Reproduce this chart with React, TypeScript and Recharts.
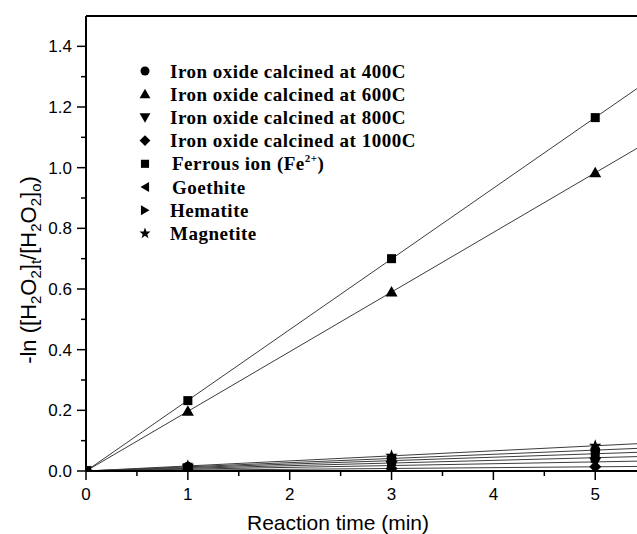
import React from "react";
import {
  ComposedChart,
  Line,
  Scatter,
  XAxis,
  YAxis,
  ReferenceLine,
} from "recharts";

// reaction times (min)
const times = [0, 1, 3, 5];

// -ln([H2O2]t/[H2O2]o) for each catalyst
const oxide400 = [0, 0.014, 0.041, 0.069];
const oxide600 = [0, 0.197, 0.59, 0.983];
const oxide800 = [0, 0.006, 0.018, 0.03];
const oxide1000 = [0, 0.003, 0.008, 0.014];
const ferrous = [0, 0.232, 0.7, 1.165];
const goethite = [0, 0.011, 0.034, 0.057];
const hematite = [0, 0.009, 0.026, 0.044];
const magnetite = [0, 0.017, 0.05, 0.083];

const xTicks = [0, 0.5, 1, 1.5, 2, 2.5, 3, 3.5, 4, 4.5, 5];
const xMajor = [0, 1, 2, 3, 4, 5];
const yTicks = [0, 0.1, 0.2, 0.3, 0.4, 0.5, 0.6, 0.7, 0.8, 0.9, 1.0, 1.1, 1.2, 1.3, 1.4];
const yMajor = [0, 0.2, 0.4, 0.6, 0.8, 1.0, 1.2, 1.4];

const X_MAX = 5.41;
const Y_MAX = 1.5;

type Kind = "circle" | "up" | "down" | "diamond" | "square" | "left" | "right" | "star";

const series: { name: string; values: number[]; kind: Kind }[] = [
  { name: "Iron oxide calcined at 400C", values: oxide400, kind: "circle" },
  { name: "Iron oxide calcined at 600C", values: oxide600, kind: "up" },
  { name: "Iron oxide calcined at 800C", values: oxide800, kind: "down" },
  { name: "Iron oxide calcined at 1000C", values: oxide1000, kind: "diamond" },
  { name: "Ferrous ion", values: ferrous, kind: "square" },
  { name: "Goethite", values: goethite, kind: "left" },
  { name: "Hematite", values: hematite, kind: "right" },
  { name: "Magnetite", values: magnetite, kind: "star" },
];

// least squares through the origin
function fit(values: number[]) {
  let sxy = 0;
  let sxx = 0;
  times.forEach((t, i) => {
    sxy += t * values[i];
    sxx += t * t;
  });
  const k = sxy / sxx;
  return [
    { x: 0, y: 0 },
    { x: X_MAX, y: k * X_MAX },
  ];
}

function points(values: number[]) {
  return times.map((t, i) => ({ x: t, y: values[i] }));
}

function Marker({ kind, cx, cy, s = 1 }: { kind: Kind; cx: number; cy: number; s?: number }) {
  const p = (arr: number[][]) => arr.map(([a, b]) => `${cx + a * s},${cy + b * s}`).join(" ");
  switch (kind) {
    case "circle":
      return <circle cx={cx} cy={cy} r={5 * s} fill="#000" />;
    case "up":
      return <polygon points={p([[0, -6], [6, 4.5], [-6, 4.5]])} fill="#000" />;
    case "down":
      return <polygon points={p([[0, 6], [6, -4.5], [-6, -4.5]])} fill="#000" />;
    case "diamond":
      return <polygon points={p([[0, -6], [6, 0], [0, 6], [-6, 0]])} fill="#000" />;
    case "square":
      return <rect x={cx - 4.5 * s} y={cy - 4.5 * s} width={9 * s} height={9 * s} fill="#000" />;
    case "left":
      return <polygon points={p([[-5, 0], [4.5, -5.5], [4.5, 5.5]])} fill="#000" />;
    case "right":
      return <polygon points={p([[5, 0], [-4.5, -5.5], [-4.5, 5.5]])} fill="#000" />;
    case "star": {
      const pts: number[][] = [];
      for (let i = 0; i < 10; i++) {
        const r = i % 2 === 0 ? 6.5 : 2.7;
        const a = -Math.PI / 2 + (i * Math.PI) / 5;
        pts.push([r * Math.cos(a), r * Math.sin(a)]);
      }
      return <polygon points={p(pts)} fill="#000" />;
    }
  }
  return null;
}

const tickFont = { fontFamily: "'Liberation Sans', Arial, sans-serif", fontSize: 17, fill: "#000" };

function XTick(props: any) {
  const { x, y, payload } = props;
  const major = xMajor.includes(payload.value);
  return (
    <g>
      <line x1={x} x2={x} y1={y} y2={y + (major ? 9 : 5)} stroke="#000" strokeWidth={1.5} />
      {major && (
        <text x={x} y={y + 29} textAnchor="middle" {...tickFont}>
          {payload.value}
        </text>
      )}
    </g>
  );
}

function YTick(props: any) {
  const { x, y, payload } = props;
  const major = yMajor.some((v) => Math.abs(v - payload.value) < 1e-6);
  return (
    <g>
      <line x1={x - (major ? 9 : 5)} x2={x} y1={y} y2={y} stroke="#000" strokeWidth={1.5} />
      {major && (
        <text x={x - 14} y={y + 6} textAnchor="end" {...tickFont}>
          {payload.value.toFixed(1)}
        </text>
      )}
    </g>
  );
}

function XLabel() {
  return (
    <text x={338} y={530} textAnchor="middle" fontFamily="'Liberation Sans', Arial, sans-serif" fontSize={21} fill="#000">
      Reaction time (min)
    </text>
  );
}

function YLabel() {
  const cx = 36;
  const cy = 270;
  const sub = { fontSize: 15 };
  return (
    <text
      x={cx}
      y={cy}
      transform={`rotate(-90, ${cx}, ${cy})`}
      textAnchor="middle"
      fontFamily="'Liberation Sans', Arial, sans-serif"
      fontSize={22}
      fill="#000"
    >
      <tspan>-ln ([H</tspan>
      <tspan dy={5} {...sub}>2</tspan>
      <tspan dy={-5}>O</tspan>
      <tspan dy={5} {...sub}>2</tspan>
      <tspan dy={-5}>]</tspan>
      <tspan dy={5} {...sub}>t</tspan>
      <tspan dy={-5}>/[H</tspan>
      <tspan dy={5} {...sub}>2</tspan>
      <tspan dy={-5}>O</tspan>
      <tspan dy={5} {...sub}>2</tspan>
      <tspan dy={-5}>]</tspan>
      <tspan dy={5} {...sub}>o</tspan>
      <tspan dy={-5}>)</tspan>
    </text>
  );
}

function LegendBox() {
  const rowH = 23.2;
  return (
    <svg width={300} height={200} style={{ display: "block" }}>
      {series.map((s, i) => {
        const cy = 11 + i * rowH;
        return (
          <g key={s.name}>
            <Marker kind={s.kind} cx={10} cy={cy} s={0.9} />
            <text
              x={i === 4 || i === 5 ? 37 : 35}
              y={cy + 6.5}
              fontFamily="'Liberation Serif', 'Times New Roman', serif"
              fontWeight="bold"
              fontSize={19}
              letterSpacing={0.5}
              fill="#000"
            >
              {s.name}
              {s.kind === "square" && (
                <>
                  {" (Fe"}
                  <tspan dy={-8} fontSize={11}>2+</tspan>
                  <tspan dy={8}>)</tspan>
                </>
              )}
            </text>
          </g>
        );
      })}
    </svg>
  );
}

export default function App() {
  return (
    <div style={{ position: "absolute", left: 0, top: 0, width: 637, height: 534, background: "#fff" }}>
      <ComposedChart width={637} height={534} margin={{ top: 16, right: 0, bottom: 3, left: 0 }}>
        <XAxis
          type="number"
          dataKey="x"
          domain={[0, X_MAX]}
          ticks={xTicks}
          interval={0}
          allowDataOverflow
          height={60}
          axisLine={{ stroke: "#000", strokeWidth: 2 }}
          tickLine={false}
          tickSize={0}
          tickMargin={0}
          tick={<XTick />}
          label={{ content: <XLabel /> }}
        />
        <YAxis
          type="number"
          dataKey="y"
          domain={[0, Y_MAX]}
          ticks={yTicks}
          interval={0}
          allowDataOverflow
          width={86}
          axisLine={{ stroke: "#000", strokeWidth: 2 }}
          tickLine={false}
          tickSize={0}
          tickMargin={0}
          tick={<YTick />}
          label={{ content: <YLabel /> }}
        />
        <ReferenceLine y={Y_MAX} stroke="#000" strokeWidth={2} />
        {series.map((s) => (
          <Line
            key={"fit-" + s.name}
            data={fit(s.values)}
            dataKey="y"
            type="linear"
            stroke="#3c3c3c"
            strokeWidth={1}
            dot={false}
            activeDot={false}
            isAnimationActive={false}
          />
        ))}
        {series.map((s) => (
          <Scatter
            key={"pts-" + s.name}
            data={points(s.values)}
            dataKey="y"
            isAnimationActive={false}
            shape={(p: any) => <Marker kind={s.kind} cx={p.cx} cy={p.cy} />}
          />
        ))}
      </ComposedChart>
      <div style={{ position: "absolute", left: 135, top: 60 }}>
        <LegendBox />
      </div>
    </div>
  );
}
